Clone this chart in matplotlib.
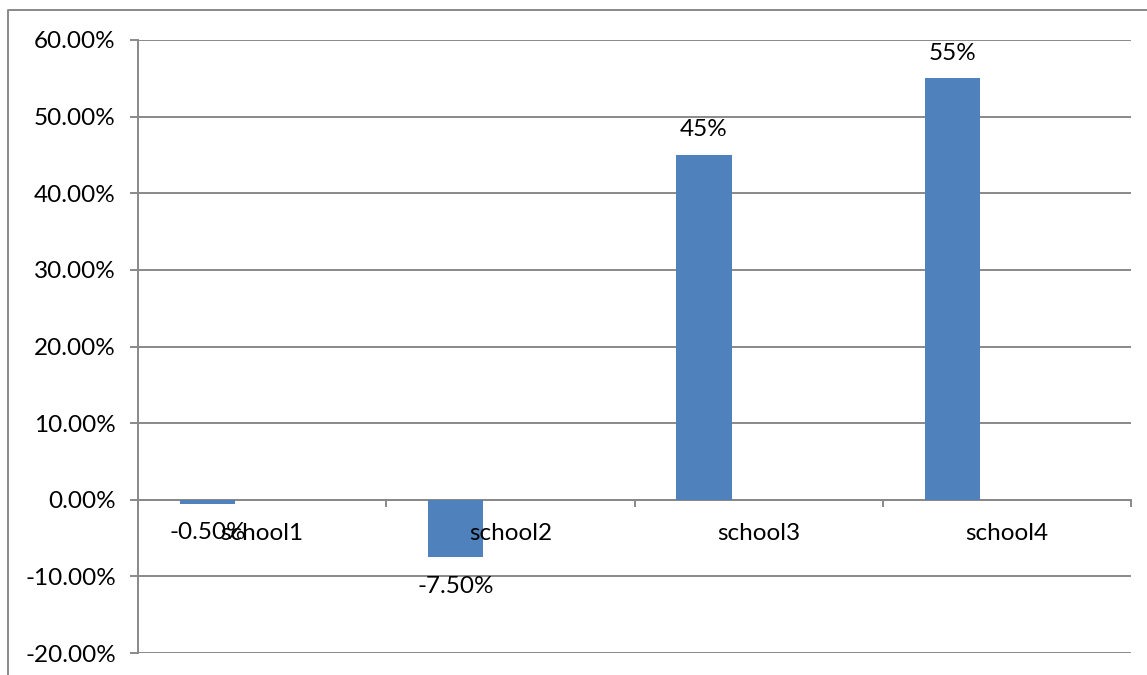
import matplotlib
matplotlib.use("Agg")
import matplotlib.pyplot as plt
from matplotlib.lines import Line2D
from matplotlib.ticker import FuncFormatter, MultipleLocator

# school change rates (percent)
schools = ["school1", "school2", "school3", "school4"]
changes = [-0.5, -7.5, 45, 55]
value_labels = ["-0.50%", "-7.50%", "45%", "55%"]

plt.rcParams['font.family'] = ['Lato', 'DejaVu Sans']
grey = "#898989"
blue = "#4F81BD"
fs = 17.5

fig = plt.figure(figsize=(11.47, 6.75), dpi=100)
ax = fig.add_axes([138 / 1147, 22 / 675, (1131 - 138) / 1147, 613 / 675])

x = list(range(len(schools)))
bar_x = [i - 0.22 for i in x]
ax.bar(bar_x, changes, width=0.222, color=blue, zorder=3)

ax.set_xlim(-0.5, 3.5)
ax.set_ylim(-20, 60)
ax.yaxis.set_major_locator(MultipleLocator(10))
ax.yaxis.set_major_formatter(FuncFormatter(lambda v, p: "%.2f%%" % v))
ax.grid(axis='y', color=grey, linewidth=1.4)
ax.set_axisbelow(True)

for s in ['top', 'right']:
    ax.spines[s].set_visible(False)
ax.spines['left'].set_color(grey)
ax.spines['left'].set_linewidth(1.4)
ax.spines['bottom'].set_position(('data', 0))
ax.spines['bottom'].set_color(grey)
ax.spines['bottom'].set_linewidth(1.4)

ax.tick_params(axis='y', length=6, width=1.4, color=grey, pad=10, labelsize=fs)
ax.set_xticks([-0.5, 0.5, 1.5, 2.5, 3.5])
ax.set_xticklabels([])
ax.tick_params(axis='x', length=5, width=1.4, color=grey, direction='out')

# category names sit just below the zero line
for i, name in zip(x, schools):
    ax.annotate(name, (i, 0), xytext=(0, -24), textcoords='offset points',
                ha='center', va='center', fontsize=fs, zorder=5)

# value labels above positive bars, below negative ones
for bx, v, lab in zip(bar_x, changes, value_labels):
    off = 18 if v > 0 else -21
    ax.annotate(lab, (bx, v), xytext=(0, off), textcoords='offset points',
                ha='center', va='center', fontsize=fs, zorder=5)

# chart area border
fig.add_artist(Line2D([8 / 1147, 8 / 1147, 1.0], [-0.01, 1 - 10 / 675, 1 - 10 / 675],
                      transform=fig.transFigure, color=grey, linewidth=1.4))

fig.savefig("out.png", dpi=100)
